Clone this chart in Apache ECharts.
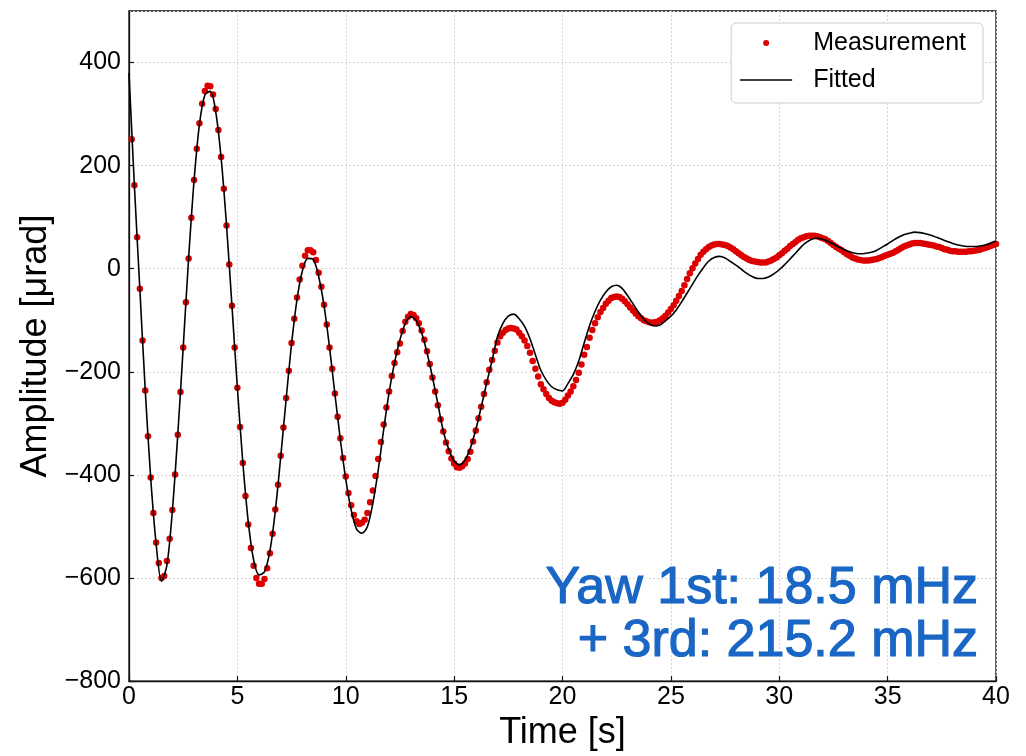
<!DOCTYPE html>
<html>
<head>
<meta charset="utf-8">
<script src="https://cdn.jsdelivr.net/npm/echarts@6/dist/echarts.min.js"></script>
<style>
  html, body { margin: 0; padding: 0; background: #fff; }
  #chart { width: 1026px; height: 756px; }
</style>
</head>
<body>
<div id="chart"></div>
<script>
// Yaw ringdown: measured angle samples and the two-mode damped fit.
const SAMPLE_STEP = 0.125;   // s between measured samples (first sample at one step)
const FIT_STEP = 0.25;       // s between fitted curve points (first point at t = 0)

// Measured amplitude [µrad], one row per second
const measured = [
  251, 162, 61, -39, -139, -236, -325, -405,
  -474, -531, -571, -600, -596, -567, -524, -468,
  -399, -322, -239, -153, -65, 20, 99, 172,
  233, 282, 320, 345, 355, 354, 338, 310,
  269, 217, 155, 84, 8, -72, -153, -231,
  -307, -377, -441, -496, -542, -576, -600, -611,
  -611, -602, -581, -552, -514, -467, -419, -363,
  -308, -251, -198, -144, -97, -56, -21, 6,
  25, 36, 36, 32, 17, -8, -35, -70,
  -108, -153, -194, -242, -287, -329, -367, -403,
  -435, -459, -478, -490, -495, -493, -487, -474,
  -453, -430, -402, -369, -336, -302, -269, -238,
  -208, -183, -162, -145, -121, -103, -93, -88,
  -90, -96, -106, -120, -138, -160, -185, -211,
  -238, -265, -292, -316, -337, -354, -368, -378,
  -385, -386, -383, -378, -369, -355, -335, -314,
  -290, -268, -243, -220, -196, -177, -159, -143,
  -131, -124, -119, -116, -115, -116, -118, -124,
  -131, -139, -150, -163, -179, -194, -209, -224,
  -234, -243, -251, -256, -259, -261, -262, -260,
  -254, -246, -238, -228, -216, -202, -186, -167,
  -152, -134, -119, -106, -94, -84, -76, -68,
  -62, -57, -55, -54, -55, -58, -63, -69,
  -75, -81, -87, -92, -96, -100, -102, -104,
  -105, -104, -103, -100, -96, -91, -85, -78,
  -71, -62, -53, -43, -32, -20, -9, 1,
  10, 19, 27, 33, 38, 42, 45, 47,
  48, 48, 47, 46, 44, 41, 38, 34,
  30, 26, 23, 20, 17, 15, 14, 13,
  12, 12, 12, 14, 16, 19, 22, 26,
  30, 35, 39, 44, 48, 52, 56, 59,
  61, 63, 64, 64, 64, 63, 61, 59,
  57, 54, 50, 46, 42, 39, 36, 32,
  28, 25, 22, 20, 18, 17, 16, 16,
  16, 17, 18, 19, 21, 23, 25, 27,
  29, 31, 34, 37, 40, 43, 45, 47,
  49, 50, 50, 50, 49, 48, 47, 46,
  45, 43, 42, 40, 38, 37, 35, 34,
  34, 33, 33, 33, 33, 34, 34, 35,
  36, 37, 39, 40, 42, 44, 46, 48
];

// Fitted curve [µrad], one row per two seconds
const fitted = [
  380, 160, -39, -236, -405, -533, -606, -575,
  -470, -322, -153, 20, 170, 280, 337, 344,
  305, 215, 84, -72, -231, -375, -490, -565,
  -594, -588, -548, -470, -365, -253, -146, -60,
  -4, 20, 18, -15, -72, -152, -243, -331,
  -408, -468, -505, -513, -500, -455, -390, -312,
  -240, -182, -138, -106, -93, -101, -124, -163,
  -210, -262, -315, -350, -373, -380, -371, -348,
  -312, -268, -222, -178, -132, -106, -92, -88,
  -97, -112, -136, -167, -197, -216, -229, -235,
  -237, -223, -205, -179, -144, -110, -83, -61,
  -45, -35, -32, -38, -52, -68, -84, -98,
  -107, -111, -109, -101, -92, -80, -64, -47,
  -30, -13, 2, 15, 22, 24, 21, 14,
  7, -1, -9, -15, -19, -19, -16, -10,
  -2, 8, 19, 30, 42, 51, 57, 59,
  57, 53, 48, 42, 37, 33, 30, 29,
  30, 32, 36, 42, 48, 55, 61, 66,
  69, 71, 70, 68, 65, 61, 57, 53,
  49, 46, 44, 43, 43, 44, 46, 50,
  54
];

const seriesNames = ['Measurement', 'Fitted'];
const annotationLines = ['Yaw 1st: 18.5 mHz', '+ 3rd: 215.2 mHz'];
const xRange = { min: 0, max: 40, interval: 5 };
const yRange = { min: -800, max: 500, interval: 200 };

const FONT = '"Liberation Sans", Arial, Helvetica, sans-serif';
const minusSign = v => String(v).replace('-', '\u2212');

const measuredPoints = measured.map((v, i) => [(i + 1) * SAMPLE_STEP, v]);
const fittedPoints = fitted.map((v, i) => [i * FIT_STEP, v]);

const gridLine = { show: true, lineStyle: { color: '#d6d6d6', type: [2, 2], width: 1 } };
const axisLineStyle = { show: true, onZero: false, lineStyle: { color: '#111', width: 1.3 } };
const tickStyle = { show: true, inside: true, length: 5, lineStyle: { color: '#111', width: 1.2 } };

const chart = echarts.init(document.getElementById('chart'), null, { renderer: 'canvas' });
chart.setOption({
  animation: false,
  backgroundColor: '#fff',
  grid: {
    left: 129, right: 30, top: 11, bottom: 73,
    show: true, borderColor: '#111', borderWidth: 1.3, backgroundColor: 'transparent'
  },
  xAxis: {
    type: 'value', min: xRange.min, max: xRange.max, interval: xRange.interval,
    axisLine: axisLineStyle, axisTick: tickStyle, splitLine: gridLine,
    axisLabel: { fontSize: 25, color: '#000', fontFamily: FONT, margin: 4, formatter: minusSign },
    name: 'Time [s]', nameLocation: 'middle', nameGap: 30,
    nameTextStyle: { fontSize: 36, color: '#000', fontFamily: FONT }
  },
  yAxis: {
    type: 'value', min: yRange.min, max: yRange.max, interval: yRange.interval,
    axisLine: axisLineStyle, axisTick: tickStyle, splitLine: gridLine,
    axisLabel: { fontSize: 25, color: '#000', fontFamily: FONT, margin: 8,
                 showMaxLabel: false, formatter: minusSign },
    name: 'Amplitude [\u03bcrad]', nameLocation: 'middle', nameGap: 72, nameRotate: 90,
    nameTextStyle: { fontSize: 36, color: '#000', fontFamily: FONT }
  },
  legend: {
    orient: 'vertical', right: 43, top: 23,
    padding: [5, 17, 8, 9], itemWidth: 52, itemHeight: 6, itemGap: 7,
    backgroundColor: '#fff', borderColor: '#cccccc', borderWidth: 1, borderRadius: 5,
    textStyle: { fontSize: 25, color: '#000', fontFamily: FONT, lineHeight: 30, padding: [0, 0, 0, 16] },
    data: [
      { name: seriesNames[0], icon: 'circle' },
      { name: seriesNames[1], icon: 'path://M0,0L52,0L52,1.6L0,1.6Z', itemStyle: { color: '#000' } }
    ]
  },
  series: [
    {
      name: seriesNames[0], type: 'scatter', data: measuredPoints,
      symbol: 'circle', symbolSize: 6.5, itemStyle: { color: '#dc0000', opacity: 1 }, z: 2
    },
    {
      name: seriesNames[1], type: 'line', data: fittedPoints,
      symbol: 'none', smooth: 0.3,
      lineStyle: { color: '#000', width: 1.6 }, itemStyle: { color: '#000' }, z: 3
    }
  ],
  graphic: annotationLines.map((line, i) => ({
    type: 'text', x: 978, y: 589 + i * 53, z: 10,
    style: {
      text: line, font: '52px ' + FONT, fill: '#1a66c4',
      stroke: '#1a66c4', lineWidth: 1.2,
      align: 'right', verticalAlign: 'middle'
    }
  }))
});
</script>
</body>
</html>
